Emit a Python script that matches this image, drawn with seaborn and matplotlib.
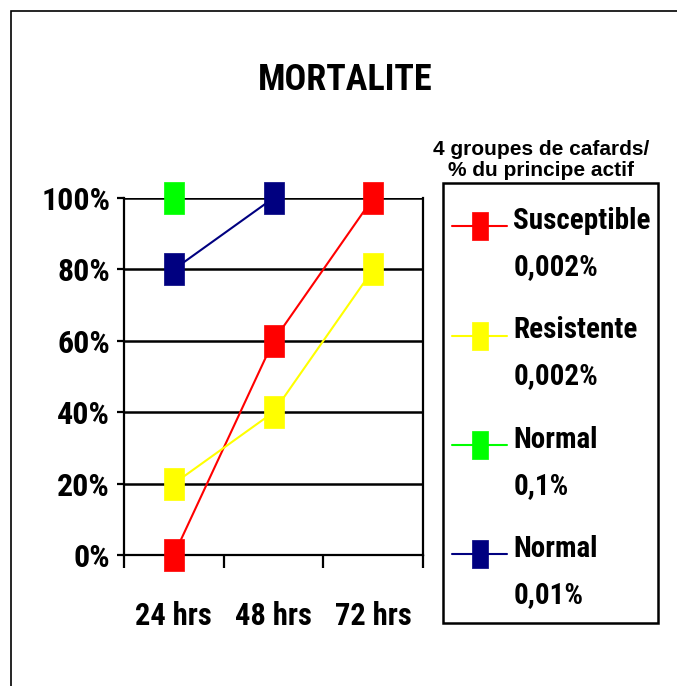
import numpy as np
import pandas as pd
import matplotlib
matplotlib.use("Agg")
import matplotlib.pyplot as plt
import seaborn as sns
from matplotlib.patches import Rectangle

# data
hours = ["24 hrs", "48 hrs", "72 hrs"]
susceptible = [0, 60, 100]
resistente = [20, 40, 80]
normal_01 = [100, np.nan, np.nan]
normal_001 = [80, 100, np.nan]
series_names = ["Susceptible\n0,002%", "Resistente\n0,002%", "Normal\n0,1%", "Normal\n0,01%"]
series_colors = ["#ff0000", "#ffff00", "#00ff00", "#000080"]
y_ticks = [0, 20, 40, 60, 80, 100]
y_labels = ["0%", "20%", "40%", "60%", "80%", "100%"]

sns.set_theme(style="white")
plt.rcParams["font.family"] = ["Roboto Condensed", "Liberation Sans", "DejaVu Sans"]
plt.rcParams["font.weight"] = "bold"
plt.rcParams["text.color"] = "black"
plt.rcParams["xtick.color"] = "black"
plt.rcParams["ytick.color"] = "black"

W, H = 677, 686

# tall rectangle marker, like the old excel squares
box = [(-0.62, -1), (0.62, -1), (0.62, 1), (-0.62, 1), (-0.62, -1)]

fig = plt.figure(figsize=(6.77, 6.86), dpi=100)
ax = fig.add_axes([124 / W, 1 - 555 / H, 299 / W, 357 / H])

for name, vals, col in zip(series_names, [susceptible, resistente, normal_01, normal_001], series_colors):
    df = pd.DataFrame({"t": hours, "v": vals}).dropna()
    sns.lineplot(data=df, x="t", y="v", ax=ax, color=col, lw=1.5, marker=box,
                 markersize=23, markeredgecolor=col, markeredgewidth=0.5,
                 label=name, clip_on=False, zorder=3, sort=False)

ax.set_xlim(-0.5, 2.5)
ax.set_ylim(0, 100)
ax.set_xlabel("")
ax.set_ylabel("")
ax.set_yticks(y_ticks)
ax.set_yticklabels(y_labels)
ax.set_xticks(range(len(hours)))
ax.set_xticklabels(hours)
ax.set_xticks([-0.5, 0.5, 1.5, 2.5], minor=True)
ax.tick_params(axis="x", which="major", length=0, pad=33, labelsize=22)
ax.tick_params(axis="x", which="minor", length=9, width=1.6, color="black", direction="out", bottom=True)
ax.tick_params(axis="y", length=5, width=1.6, color="black", direction="out", left=True, pad=5, labelsize=23)
for lab in ax.get_xticklabels() + ax.get_yticklabels():
    lab.set_fontweight("bold")
ax.yaxis.grid(True, color="black", lw=1.8)
ax.set_axisbelow(True)
for s in ["left", "right", "bottom"]:
    ax.spines[s].set_visible(True)
    ax.spines[s].set_color("black")
    ax.spines[s].set_linewidth(1.6)
ax.spines["top"].set_visible(False)

handles, labels = ax.get_legend_handles_labels()
ax.get_legend().remove()
leg = fig.legend(handles, labels, loc="upper left", bbox_to_anchor=(452 / W, 1 - 207 / H),
                 borderaxespad=0, frameon=False, fontsize=21, handlelength=1.9,
                 handletextpad=0.2, labelspacing=1.2, borderpad=0, markerscale=0.85)
for t in leg.get_texts():
    t.set_fontweight("bold")
    t.set_linespacing(1.83)

# legend frame (the group title sits above it, outside the box)
fig.patches.append(Rectangle((443 / W, 1 - 623 / H), 215 / W, 440 / H, transform=fig.transFigure,
                             fill=False, edgecolor="black", lw=1.8))
fig.text(541 / W, 1 - 160 / H, "4 groupes de cafards/\n% du principe actif", ha="center", va="center",
         fontsize=15, fontweight="bold", family=["Liberation Sans", "DejaVu Sans"], linespacing=1.1)
fig.text(345 / W, 1 - 80 / H, "MORTALITE", ha="center", va="center", fontsize=26, fontweight="bold")

# outer chart border
fig.patches.append(Rectangle((11 / W, -0.1), 1.2, 1.1 - 11 / H, transform=fig.transFigure,
                             fill=False, edgecolor="black", lw=1.2))

# move each legend key up beside the first line of its two-line label
fig.canvas.draw()
for line, txt in zip(leg.get_lines(), leg.get_texts()):
    bb = txt.get_window_extent()
    target = bb.y1 - bb.height * 0.26
    yd = np.asarray(line.get_ydata(), dtype=float)
    cur = line.get_transform().transform((0, yd[0]))[1]
    line.set_ydata(yd + (target - cur) * 72 / fig.dpi)

fig.savefig("out.png", dpi=100)
